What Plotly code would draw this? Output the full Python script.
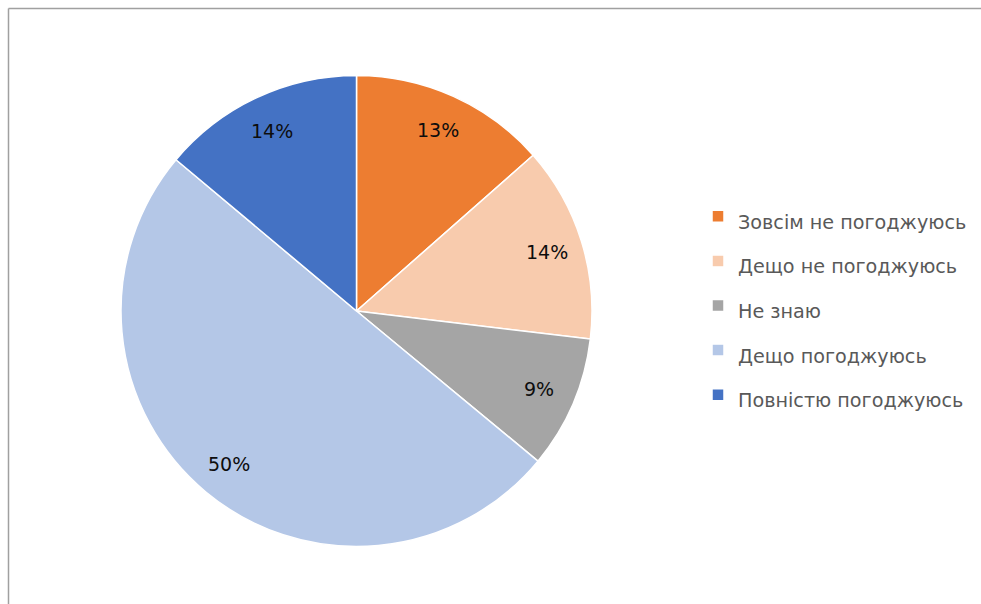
import math
import plotly.graph_objects as go

categories = ["Зовсім не погоджуюсь", "Дещо не погоджуюсь", "Не знаю", "Дещо погоджуюсь", "Повністю погоджуюсь"]
values = [13.5, 13.4, 9.1, 50.1, 13.9]
value_labels = ["13%", "14%", "9%", "50%", "14%"]
colors = ["#ED7D31", "#F8CBAD", "#A5A5A5", "#B4C7E7", "#4472C4"]

W, H = 981, 604
cx, cy, R = 356.5, 311, 235.5
LEG_TEXT_SIZE = 19.2
FONT = "DejaVu Sans"

fig = go.Figure()
fig.add_trace(go.Pie(
    labels=[f"<span style='font-size:{LEG_TEXT_SIZE}px'>{c}</span>" for c in categories],
    values=values,
    marker=dict(colors=colors, line=dict(color="white", width=1.5)),
    sort=False,
    direction="clockwise",
    rotation=0,
    textinfo="none",
    hoverinfo="label+percent",
    domain=dict(x=[(cx - R) / W, (cx + R) / W], y=[1 - (cy + R) / H, 1 - (cy - R) / H]),
))

# data labels placed along each slice's mid-angle
total = sum(values)
cum = 0
for v, t in zip(values, value_labels):
    mid = (cum + v / 2) / total * 2 * math.pi
    cum += v
    r = 0.845 * R
    px = cx + r * math.sin(mid)
    py = cy - r * math.cos(mid)
    fig.add_annotation(x=px / W, y=1 - py / H, xref="paper", yref="paper",
                       xanchor="center", yanchor="middle",
                       text=t, showarrow=False,
                       font=dict(size=19, color="#0D0D0D", family=FONT))

# chart border (only left and top edges are visible in the crop)
border = dict(color="#A0A0A0", width=1.5)
fig.add_shape(type="line", xref="paper", yref="paper",
              x0=8.5 / W, x1=8.5 / W, y0=0, y1=1 - 8.5 / H, line=border)
fig.add_shape(type="line", xref="paper", yref="paper",
              x0=8.5 / W, x1=1, y0=1 - 8.5 / H, y1=1 - 8.5 / H, line=border)

fig.update_layout(
    width=W, height=H,
    margin=dict(l=0, r=0, t=0, b=0),
    paper_bgcolor="white",
    plot_bgcolor="white",
    showlegend=True,
    legend=dict(
        x=698 / W, y=1 - 305.5 / H, xanchor="left", yanchor="middle",
        font=dict(size=32, color="#595959", family=FONT),
        itemclick=False, itemdoubleclick=False,
        bgcolor="rgba(0,0,0,0)",
    ),
)

fig.write_html("out.html", config={"displayModeBar": False},
               post_script="document.body.style.margin='0';document.body.style.overflow='hidden';")
